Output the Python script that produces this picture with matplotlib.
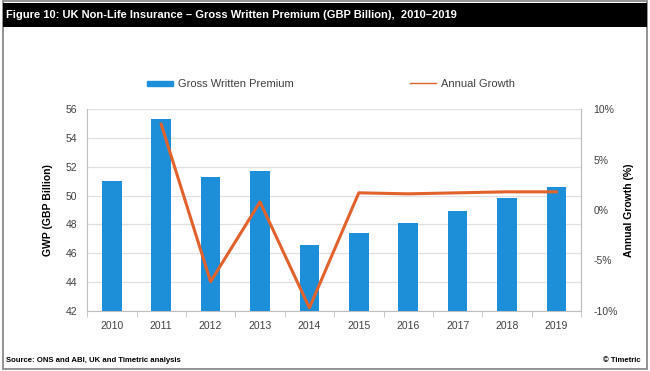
import matplotlib.pyplot as plt
import numpy as np
from matplotlib.patches import Rectangle
from matplotlib.lines import Line2D
from matplotlib.ticker import FuncFormatter
from matplotlib import font_manager

plt.rcParams['font.family'] = ['Liberation Sans', 'DejaVu Sans']

# dados
anos = ['2010', '2011', '2012', '2013', '2014', '2015', '2016', '2017', '2018', '2019']
gwp = [51.0, 55.3, 51.3, 51.7, 46.6, 47.4, 48.1, 48.9, 49.8, 50.6]
crescimento = [np.nan, 8.5, -7.1, 0.8, -9.7, 1.7, 1.6, 1.7, 1.8, 1.8]

azul = '#1c8fd8'
laranja = '#e2622c'
cinza = '#bfbfbf'
texto = '#404040'

# fonte estreita, se existir
nomes = {f.name for f in font_manager.fontManager.ttflist}
estreita = 'Liberation Sans Narrow' in nomes
fam_titulo = ['Liberation Sans Narrow', 'Liberation Sans'] if estreita else ['Liberation Sans']
tam_titulo = 10 if estreita else 8
tam_rodape = 7 if estreita else 5.6

fig = plt.figure(figsize=(6.5, 3.71), dpi=100)

# moldura e barra do titulo
fig.patches.append(Rectangle((0.004, 0.006), 0.991, 0.99, transform=fig.transFigure,
                             fill=False, edgecolor='#808080', linewidth=1.2))
fig.patches.append(Rectangle((0.004, 0.928), 0.991, 0.065, transform=fig.transFigure,
                             facecolor='black', edgecolor='none'))
fig.text(0.009, 0.960, 'Figure 10: UK Non-Life Insurance \u2013 Gross Written Premium (GBP Billion),  2010\u20132019',
         color='white', fontsize=tam_titulo, fontweight='bold', va='center', ha='left', family=fam_titulo)

ax = fig.add_axes([0.134, 0.162, 0.760, 0.544])
x = np.arange(len(anos))
ax.bar(x, gwp, width=0.4, color=azul, zorder=3)
ax.set_xlim(-0.5, len(anos) - 0.5)
ax.set_ylim(42, 56)
ax.set_yticks(np.arange(42, 57, 2))
ax.grid(axis='y', color='#e0e0e0', linewidth=0.9, zorder=0)
ax.set_xticks(x)
ax.set_xticklabels(anos)
ax.set_xticks(np.arange(-0.5, len(anos), 1), minor=True)
ax.tick_params(axis='x', which='major', length=0, pad=7, labelsize=7.5, labelcolor=texto)
ax.tick_params(axis='x', which='minor', length=4, color=cinza, direction='out')
ax.tick_params(axis='y', length=0, pad=7, labelsize=7.5, labelcolor=texto)
for lado in ['left', 'bottom', 'right']:
    ax.spines[lado].set_color(cinza)
ax.spines['top'].set_visible(False)
ax.set_ylabel('GWP (GBP Billion)', fontsize=7.5, fontweight='bold', color='black', labelpad=9)

ax2 = ax.twinx()
ax2.plot(x, crescimento, color=laranja, linewidth=2.2, zorder=4)
ax2.set_ylim(-10, 10)
ax2.set_yticks([-10, -5, 0, 5, 10])
ax2.yaxis.set_major_formatter(FuncFormatter(lambda v, p: '%d%%' % v))
ax2.tick_params(axis='y', length=0, pad=9, labelsize=7.5, labelcolor=texto)
for lado in ['left', 'bottom', 'top']:
    ax2.spines[lado].set_visible(False)
ax2.spines['right'].set_color(cinza)
ax2.set_ylabel('Annual Growth (%)', fontsize=7.5, fontweight='bold', color='black', labelpad=4)

# legenda
fig.legend(handles=[Rectangle((0, 0), 1, 1, color=azul)], labels=['Gross Written Premium'],
           loc='center left', bbox_to_anchor=(0.21, 0.773), frameon=False, fontsize=8,
           handlelength=2.4, handleheight=0.35, handletextpad=0.4, labelcolor=texto)
fig.legend(handles=[Line2D([0], [0], color=laranja, linewidth=1)], labels=['Annual Growth'],
           loc='center left', bbox_to_anchor=(0.615, 0.773), frameon=False, fontsize=8,
           handlelength=2.4, handletextpad=0.4, labelcolor=texto)

# rodape
fig.text(0.009, 0.027, 'Source: ONS and ABI, UK and Timetric analysis', fontsize=tam_rodape,
         fontweight='bold', va='center', ha='left', family=fam_titulo)
fig.text(0.985, 0.027, '\u00a9 Timetric', fontsize=tam_rodape, fontweight='bold', va='center',
         ha='right', family=fam_titulo)

fig.savefig('out.png', dpi=100)
